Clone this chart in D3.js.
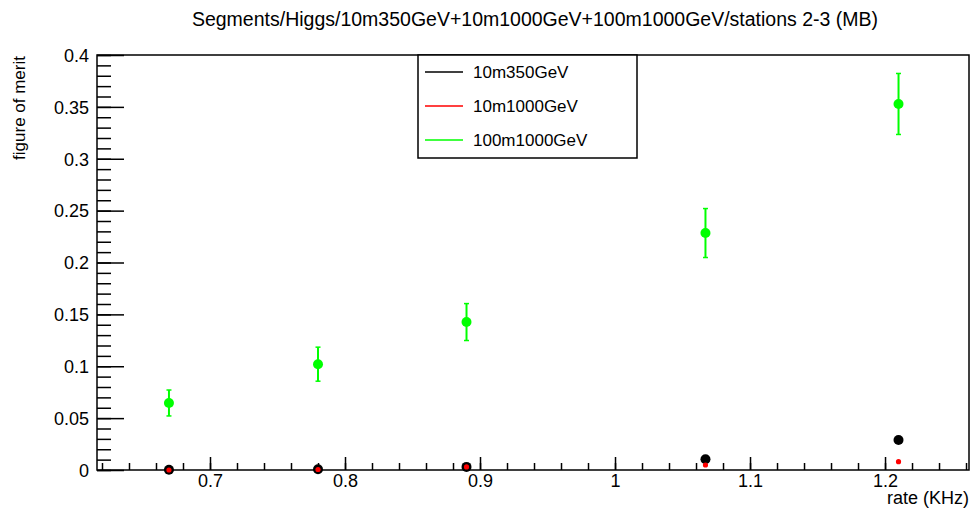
<!DOCTYPE html>
<html>
<head>
<meta charset="utf-8">
<script src="https://cdn.jsdelivr.net/npm/d3@7"></script>
<style>
    body { margin: 0; background: #fff; }
    svg text { font-family: "Liberation Sans", Arial, sans-serif; fill: #000; }
</style>
</head>
<body>
<svg id="chart" width="974" height="508"></svg>
<script>
// values
const rates = [0.6696, 0.780, 0.890, 1.067, 1.210];
const fom350 = [0.0003, 0.0008, 0.003, 0.0103, 0.0289];
const fom1000 = [0.0, 0.0005, 0.003, 0.0048, 0.008];
const fom100m = [0.0646, 0.102, 0.1426, 0.2284, 0.3528];
const err100m = [0.0125, 0.0164, 0.0178, 0.0236, 0.0294];
const seriesNames = ['10m350GeV', '10m1000GeV', '100m1000GeV'];
const seriesColors = ['#000000', '#ff0000', '#00ff00'];
const xMajor = [0.7, 0.8, 0.9, 1.0, 1.1, 1.2];
const xLabels = ['0.7', '0.8', '0.9', '1', '1.1', '1.2'];
const yMajor = [0, 0.05, 0.1, 0.15, 0.2, 0.25, 0.3, 0.35, 0.4];
const yLabels = ['0', '0.05', '0.1', '0.15', '0.2', '0.25', '0.3', '0.35', '0.4'];

const svg = d3.select('#chart');
const frame = { left: 97, right: 969, top: 55, bottom: 470 };

const x = d3.scaleLinear().domain([0.6163, 1.2622]).range([frame.left, frame.right]);
const y = d3.scaleLinear().domain([0, 0.4]).range([frame.bottom, frame.top]);

// minor ticks
const xMinor = d3.range(0.62, 1.262, 0.02).map(v => +v.toFixed(2));
const yMinor = d3.range(0, 0.4001, 0.01).map(v => +v.toFixed(2));

svg.append('g')
    .attr('transform', `translate(0,${frame.bottom})`)
    .call(d3.axisBottom(x).tickValues(xMinor).tickSize(-7).tickFormat(''))
    .call(g => g.select('.domain').remove());
let xAxisG = svg.append('g')
    .attr('transform', `translate(0,${frame.bottom})`)
    .call(d3.axisBottom(x).tickValues(xMajor).tickSize(-13)
        .tickFormat((d, i) => xLabels[i]))
    .call(g => g.select('.domain').remove());
xAxisG.selectAll('text').attr('font-size', 18).attr('y', 4).attr('dy', '0.71em');

svg.append('g')
    .attr('transform', `translate(${frame.left},0)`)
    .call(d3.axisLeft(y).tickValues(yMinor).tickSize(-14).tickFormat(''))
    .call(g => g.select('.domain').remove());
let yAxisG = svg.append('g')
    .attr('transform', `translate(${frame.left},0)`)
    .call(d3.axisLeft(y).tickValues(yMajor).tickSize(-27)
        .tickFormat((d, i) => yLabels[i]))
    .call(g => g.select('.domain').remove());
yAxisG.selectAll('text').attr('font-size', 18).attr('x', -8).attr('dy', '0.35em');

svg.selectAll('.tick line').attr('stroke', '#000').attr('stroke-width', 1.5);

// frame
svg.append('rect')
    .attr('x', frame.left).attr('y', frame.top)
    .attr('width', frame.right - frame.left).attr('height', frame.bottom - frame.top)
    .attr('fill', 'none').attr('stroke', '#000').attr('stroke-width', 1.5);

// green error bars
const pts100 = rates.map((r, i) => ({ x: r, y: fom100m[i], e: err100m[i] }));
const eb = svg.append('g').attr('stroke', seriesColors[2]);
eb.selectAll('line.bar').data(pts100).join('line').attr('class', 'bar')
    .attr('stroke-width', 2)
    .attr('x1', d => x(d.x)).attr('x2', d => x(d.x))
    .attr('y1', d => y(d.y + d.e)).attr('y2', d => y(d.y - d.e));
eb.selectAll('line.cap').data(pts100.flatMap(d => [d.y + d.e, d.y - d.e].map(v => ({ x: d.x, v }))))
    .join('line').attr('class', 'cap')
    .attr('stroke-width', 1.5)
    .attr('x1', d => x(d.x) - 2.5).attr('x2', d => x(d.x) + 2.5)
    .attr('y1', d => y(d.v)).attr('y2', d => y(d.v));

// markers
svg.append('g').selectAll('circle').data(pts100).join('circle')
    .attr('cx', d => x(d.x)).attr('cy', d => y(d.y)).attr('r', 5)
    .attr('fill', seriesColors[2]);
svg.append('g').selectAll('circle').data(rates).join('circle')
    .attr('cx', d => x(d)).attr('cy', (d, i) => y(fom350[i])).attr('r', 5)
    .attr('fill', seriesColors[0]);
svg.append('g').selectAll('circle').data(rates).join('circle')
    .attr('cx', d => x(d)).attr('cy', (d, i) => y(fom1000[i])).attr('r', 2.6)
    .attr('fill', seriesColors[1]);

// legend
const lg = svg.append('g');
lg.append('rect')
    .attr('x', 418).attr('y', 55).attr('width', 219).attr('height', 103)
    .attr('fill', '#fff').attr('stroke', '#000').attr('stroke-width', 1.5);
const rows = lg.selectAll('g').data(seriesNames).join('g')
    .attr('transform', (d, i) => `translate(0,${72 + i * 34})`);
rows.append('line')
    .attr('x1', 425).attr('x2', 463)
    .attr('stroke', (d, i) => seriesColors[i]).attr('stroke-width', 1.5);
rows.append('text')
    .attr('x', 473).attr('y', 6)
    .attr('font-size', 17)
    .text(d => d);

// titles
svg.append('text')
    .attr('x', 535).attr('y', 26)
    .attr('text-anchor', 'middle')
    .attr('font-size', 19.5)
    .text('Segments/Higgs/10m350GeV+10m1000GeV+100m1000GeV/stations 2-3 (MB)');
svg.append('text')
    .attr('x', 969).attr('y', 504)
    .attr('text-anchor', 'end')
    .attr('font-size', 18)
    .text('rate (KHz)');
svg.append('text')
    .attr('transform', 'translate(25,56) rotate(-90)')
    .attr('text-anchor', 'end')
    .attr('font-size', 17)
    .text('figure of merit');
</script>
</body>
</html>
